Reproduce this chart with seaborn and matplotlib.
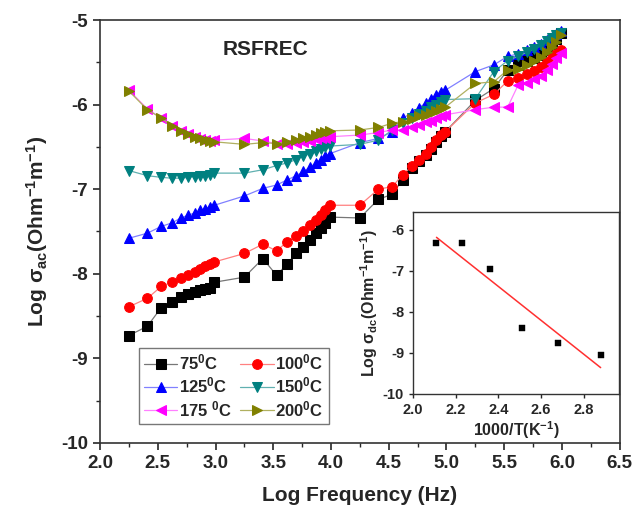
import numpy as np
import pandas as pd
import matplotlib
matplotlib.use("Agg")
import matplotlib.pyplot as plt
import seaborn as sns

# Log frequency positions (same grid for every temperature)
log_freq = [2.25, 2.41, 2.53, 2.62, 2.70, 2.76, 2.82, 2.87, 2.91, 2.95, 2.99,
            3.25, 3.41, 3.53, 3.62, 3.70, 3.76, 3.82, 3.87, 3.91, 3.95, 3.99,
            4.25, 4.41, 4.53, 4.62, 4.70, 4.76, 4.82, 4.87, 4.91, 4.95, 4.99,
            5.25, 5.41, 5.53, 5.62, 5.70, 5.76, 5.82, 5.87, 5.91, 5.95, 5.99]

sig_75 = [-8.73, -8.62, -8.40, -8.33, -8.28, -8.24, -8.21, -8.19, -8.18, -8.17, -8.10,
          -8.04, -7.82, -8.02, -7.88, -7.76, -7.68, -7.60, -7.52, -7.46, -7.40, -7.33,
          -7.34, -7.12, -7.06, -6.89, -6.75, -6.67, -6.60, -6.52, -6.44, -6.37, -6.32,
          -5.95, -5.81, -5.59, -5.53, -5.49, -5.45, -5.41, -5.35, -5.28, -5.22, -5.15]
sig_100 = [-8.39, -8.29, -8.15, -8.10, -8.05, -8.01, -7.98, -7.94, -7.91, -7.88, -7.86,
           -7.76, -7.65, -7.73, -7.62, -7.55, -7.49, -7.42, -7.36, -7.30, -7.25, -7.19,
           -7.19, -7.00, -6.97, -6.83, -6.73, -6.65, -6.58, -6.50, -6.42, -6.36, -6.32,
           -5.98, -5.88, -5.72, -5.68, -5.64, -5.60, -5.56, -5.50, -5.45, -5.40, -5.36]
sig_125 = [-7.58, -7.52, -7.44, -7.40, -7.34, -7.31, -7.28, -7.25, -7.23, -7.21, -7.19,
           -7.08, -6.99, -6.95, -6.89, -6.84, -6.79, -6.74, -6.69, -6.65, -6.61, -6.58,
           -6.45, -6.40, -6.32, -6.16, -6.10, -6.04, -5.98, -5.93, -5.89, -5.85, -5.83,
           -5.61, -5.53, -5.43, -5.40, -5.36, -5.32, -5.28, -5.24, -5.20, -5.17, -5.13]
sig_150 = [-6.78, -6.84, -6.86, -6.87, -6.87, -6.86, -6.85, -6.84, -6.84, -6.83, -6.81,
           -6.81, -6.77, -6.72, -6.69, -6.65, -6.61, -6.58, -6.55, -6.53, -6.50, -6.49,
           -6.47, -6.42, -6.30, -6.22, -6.16, -6.11, -6.07, -6.03, -6.00, -5.97, -5.94,
           -5.93, -5.61, -5.48, -5.43, -5.38, -5.34, -5.30, -5.25, -5.21, -5.18, -5.15]
sig_175 = [-5.83, -6.05, -6.16, -6.25, -6.31, -6.35, -6.38, -6.41, -6.42, -6.43, -6.42,
           -6.40, -6.43, -6.46, -6.46, -6.45, -6.44, -6.43, -6.41, -6.40, -6.39, -6.38,
           -6.36, -6.33, -6.30, -6.30, -6.27, -6.24, -6.21, -6.19, -6.16, -6.14, -6.12,
           -6.06, -6.03, -6.03, -5.77, -5.74, -5.70, -5.66, -5.59, -5.52, -5.45, -5.39]
sig_200 = [-5.84, -6.06, -6.16, -6.25, -6.31, -6.35, -6.38, -6.40, -6.42, -6.43, -6.44,
           -6.47, -6.45, -6.46, -6.44, -6.42, -6.40, -6.38, -6.36, -6.34, -6.32, -6.31,
           -6.30, -6.27, -6.22, -6.20, -6.17, -6.14, -6.12, -6.10, -6.07, -6.05, -6.03,
           -5.75, -5.73, -5.59, -5.58, -5.53, -5.49, -5.44, -5.38, -5.32, -5.26, -5.18]

labels = ["75$^{0}$C", "100$^{0}$C", "125$^{0}$C", "150$^{0}$C", "175 $^{0}$C", "200$^{0}$C"]
series = [sig_75, sig_100, sig_125, sig_150, sig_175, sig_200]
markers = ["s", "o", "^", "v", "<", ">"]
colors = ["#000000", "#ff0000", "#0000ff", "#008080", "#ff00ff", "#808000"]
line_colors = ["#777777", "#ff8080", "#8080ff", "#60b0b0", "#ff80ff", "#b0b060"]

# inset: dc conductivity vs 1000/T
inv_T = [2.11, 2.23, 2.36, 2.51, 2.68, 2.88]
sig_dc = [-6.33, -6.33, -6.95, -8.38, -8.75, -9.05]

sns.set_style("ticks")
plt.rcParams["font.family"] = ["Liberation Sans", "DejaVu Sans"]
plt.rcParams["font.weight"] = "bold"
plt.rcParams["axes.unicode_minus"] = False
plt.rcParams["mathtext.fontset"] = "custom"
plt.rcParams["mathtext.rm"] = "Liberation Sans:bold"
plt.rcParams["mathtext.bf"] = "Liberation Sans:bold"
plt.rcParams["mathtext.it"] = "Liberation Sans:bold"
plt.rcParams["mathtext.default"] = "bf"

fig = plt.figure(figsize=(6.33, 5.13), dpi=100)
ax = fig.add_axes([0.158, 0.1365, 0.821, 0.8245])

for y, lab, m, c, lc in zip(series, labels, markers, colors, line_colors):
    df = pd.DataFrame({"x": log_freq, "y": y})
    sns.lineplot(data=df, x="x", y="y", ax=ax, color=lc, lw=0.9,
                 marker=m, markersize=7 if m != "s" else 6.5,
                 markerfacecolor=c, markeredgecolor=c, label=lab)

ax.set_xlim(2.0, 6.5)
ax.set_ylim(-10, -5)
ax.set_xticks(np.arange(2.0, 6.51, 0.5))
ax.set_xticks(np.arange(2.25, 6.5, 0.5), minor=True)
ax.set_yticks(np.arange(-10, -4.9, 1))
ax.set_yticks(np.arange(-9.5, -5, 1), minor=True)
ax.tick_params(which="major", direction="out", length=5, width=1.2, labelsize=13.5)
ax.tick_params(which="minor", direction="out", length=3, width=1.0)
for lbl in ax.get_xticklabels() + ax.get_yticklabels():
    lbl.set_fontweight("bold")
ax.set_xlabel("Log Frequency (Hz)", fontsize=15, fontweight="bold", labelpad=10)
ax.set_ylabel("Log σ$_{ac}$(Ohm$^{-1}$m$^{-1}$)", fontsize=15, fontweight="bold", labelpad=8)
for s in ax.spines.values():
    s.set_linewidth(1.2)
    s.set_color("#333333")

ax.text(3.43, -5.35, "RSFREC", fontsize=15, fontweight="bold", ha="center", va="center")

# legend filled row by row: 75/100, 125/150, 175/200
handles, labs = ax.get_legend_handles_labels()
order = [0, 2, 4, 1, 3, 5]
leg = ax.legend([handles[i] for i in order], [labs[i] for i in order],
                loc="lower left", bbox_to_anchor=(0.075, 0.045), ncol=2, fontsize=12,
                frameon=True, fancybox=False, edgecolor="#555555", handlelength=2.0,
                handletextpad=0.1, columnspacing=0.5, labelspacing=0.2, borderpad=0.3,
                borderaxespad=0)
leg.get_frame().set_linewidth(1.0)
for t in leg.get_texts():
    t.set_fontweight("bold")

# inset
ins = fig.add_axes([0.6525, 0.232, 0.325, 0.355])
sns.scatterplot(x=inv_T, y=sig_dc, ax=ins, marker="s", color="black", s=14, edgecolor="black")
coef = np.polyfit(inv_T, sig_dc, 1)
fit_x = [min(inv_T), max(inv_T)]
fit_y = list(np.polyval(coef, fit_x))
sns.lineplot(x=fit_x, y=fit_y, ax=ins, color="#ff3030", lw=1.1)
ins.set_xlim(2.0, 2.965)
ins.set_ylim(-10, -5.56)
ins.set_xticks(np.arange(2.0, 2.81, 0.2))
ins.set_yticks(np.arange(-10, -5.9, 1))
ins.tick_params(direction="out", length=3, width=1.0, labelsize=10.5)
for lbl in ins.get_xticklabels() + ins.get_yticklabels():
    lbl.set_fontweight("bold")
ins.set_xlabel("1000/T(K$^{-1}$)", fontsize=11.5, fontweight="bold", labelpad=2)
ins.set_ylabel("Log σ$_{dc}$(Ohm$^{-1}$m$^{-1}$)", fontsize=11.5, fontweight="bold", labelpad=2)
for s in ins.spines.values():
    s.set_linewidth(1.0)
    s.set_color("#333333")

fig.savefig("out.png", dpi=100)
